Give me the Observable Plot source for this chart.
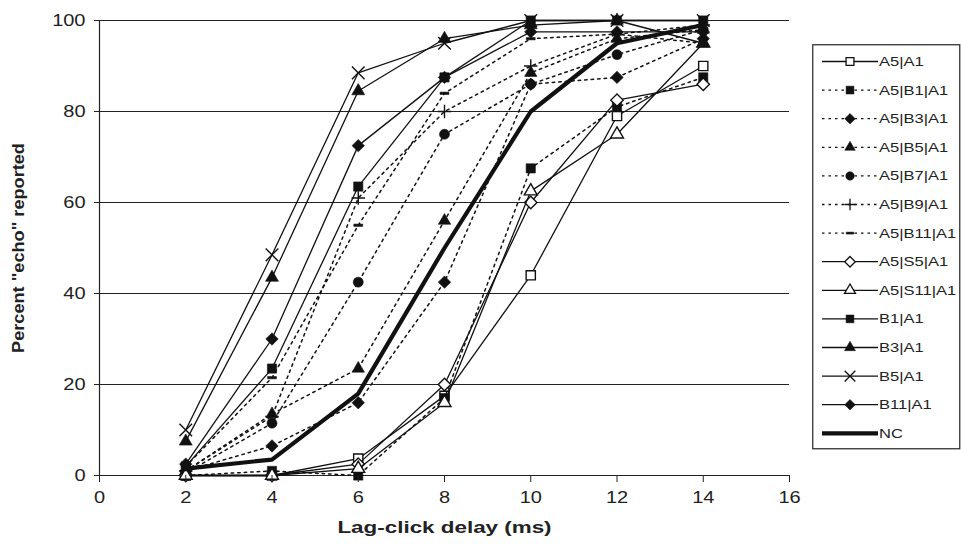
<!DOCTYPE html>
<html><head><meta charset="utf-8">
<script src="https://cdn.jsdelivr.net/npm/d3@7"></script>
<script src="https://cdn.jsdelivr.net/npm/@observablehq/plot@0.6"></script>
<style>
body{margin:0;background:#fff;}
#wrap{position:relative;width:961px;height:554px;overflow:hidden;}
#legend{position:absolute;left:812px;top:44px;}
</style></head><body><div id="wrap"></div>
<script>
// ---- data ----
const delays = [2, 4, 6, 8, 10, 12, 14];
const seriesNames = ["A5|A1","A5|B1|A1","A5|B3|A1","A5|B5|A1","A5|B7|A1","A5|B9|A1","A5|B11|A1","A5|S5|A1","A5|S11|A1","B1|A1","B3|A1","B5|A1","B11|A1","NC"];
const A5_A1     = [0, 0, 3.7, 17.5, 44, 79, 90];
const A5_B1_A1  = [0, 1, 0, 17, 67.5, 81, 87.5];
const A5_B3_A1  = [1, 6.5, 16, 42.5, 86, 87.5, 96];
const A5_B5_A1  = [1, 13.5, 23.5, 56, 88.5, 96, 98];
const A5_B7_A1  = [0.5, 11.5, 42.5, 75, 86, 92.5, 98];
const A5_B9_A1  = [1, 13, 61, 80, 90, 97, 99];
const A5_B11_A1 = [2, 21.5, 55, 84, 96, 97, 95];
const A5_S5_A1  = [0, 0, 2.5, 20, 60, 82.5, 86];
const A5_S11_A1 = [0, 0, 1.5, 16, 62.5, 75, 95];
const B1_A1     = [2, 23.5, 63.5, 87.5, 100, 100, 100];
const B3_A1     = [7.5, 43.5, 84.5, 96, 99, 100, 95];
const B5_A1     = [10, 48.5, 88.5, 95, 100, 100, 100];
const B11_A1    = [2.5, 30, 72.5, 87.5, 97.5, 97.5, 97.5];
const NC        = [1.5, 3.5, 18, 50, 80, 95, 99];
const seriesValues = [A5_A1, A5_B1_A1, A5_B3_A1, A5_B5_A1, A5_B7_A1, A5_B9_A1, A5_B11_A1, A5_S5_A1, A5_S11_A1, B1_A1, B3_A1, B5_A1, B11_A1, NC];
const xTicks = [0, 2, 4, 6, 8, 10, 12, 14, 16];
const yTicks = [0, 20, 40, 60, 80, 100];
const xTitle = "Lag-click delay (ms)";
const yTitle = 'Percent "echo" reported';

// ---- styles ----
const dashSym = {draw(ctx, size){ const s = Math.sqrt(size); const w = s*0.5, h = s*0.13; ctx.moveTo(-w,-h); ctx.lineTo(w,-h); ctx.lineTo(w,h); ctx.lineTo(-w,h); ctx.closePath(); }};
const DOT = "2.5,4";
const styleOf = {
  "A5|A1":     {sym:"square",   r:5.2, fill:"white", dash:null, sw:1.3},
  "A5|B1|A1":  {sym:"square",   r:5.2, fill:"#111",  dash:DOT,  sw:1.5},
  "A5|B3|A1":  {sym:"diamond2", r:5.6, fill:"#111",  dash:DOT,  sw:1.5},
  "A5|B5|A1":  {sym:"triangle", r:4.6, fill:"#111",  dash:DOT,  sw:1.5},
  "A5|B7|A1":  {sym:"circle",   r:5.0, fill:"#111",  dash:DOT,  sw:1.5},
  "A5|B9|A1":  {sym:"plus",     r:4.4, fill:"none",  dash:DOT,  sw:1.5},
  "A5|B11|A1": {sym:dashSym,    r:5.0, fill:"#111",  dash:DOT,  sw:1.5},
  "A5|S5|A1":  {sym:"diamond2", r:5.6, fill:"white", dash:null, sw:1.3},
  "A5|S11|A1": {sym:"triangle", r:4.8, fill:"white", dash:null, sw:1.3},
  "B1|A1":     {sym:"square",   r:5.2, fill:"#111",  dash:null, sw:1.3},
  "B3|A1":     {sym:"triangle", r:4.8, fill:"#111",  dash:null, sw:1.3},
  "B5|A1":     {sym:"times",    r:5.8, fill:"none",  dash:null, sw:1.3},
  "B11|A1":    {sym:"diamond2", r:5.6, fill:"#111",  dash:null, sw:1.3},
  "NC":        {sym:null,       r:0,   fill:"none",  dash:null, sw:4.2}
};

const rowsOf = (vals, name) => delays.map((d, i) => ({series: name, delay: d, value: vals[i]}));

const marks = [
  Plot.gridY(yTicks.filter(v => v > 0), {stroke:"#222", strokeOpacity:1, strokeWidth:1}),
  Plot.ruleX([0], {stroke:"#222", strokeWidth:1.2}),
  Plot.ruleY([0], {stroke:"#222", strokeWidth:1.2}),
];
seriesNames.forEach((name, k) => {
  const st = styleOf[name];
  const rows = rowsOf(seriesValues[k], name);
  marks.push(Plot.line(rows, {x:"delay", y:"value", stroke:"#111", strokeWidth:st.sw, strokeDasharray:st.dash || undefined, strokeLinejoin:"miter"}));
  if (st.sym) {
    const hollowStroke = st.fill === "none";
    marks.push(Plot.dot(rows, {x:"delay", y:"value", symbol: st.sym, r: st.r,
      fill: hollowStroke ? "none" : st.fill, stroke:"#111", strokeWidth: hollowStroke ? 1.4 : (st.fill === "white" ? 1.4 : 0.6)}));
  }
});
marks.push(
  Plot.axisX(xTicks, {tickSize:7, tickPadding:9, label:null, stroke:"#222", fontSize:16, className:"tickx"}),
  Plot.axisY(yTicks, {tickSize:5, tickPadding:9, label:null, stroke:"#222", fontSize:16, className:"ticky"}),
  Plot.text([xTitle], {frameAnchor:"bottom", dy:57, fontWeight:"bold", fontSize:16, fill:"#222", className:"xtitle"}),
  Plot.text([yTitle], {frameAnchor:"left", dx:-81, rotate:-90, textAnchor:"middle", fontWeight:"bold", fontSize:16.5, fill:"#222", className:"ytitle"})
);

const chart = Plot.plot({
  width: 961, height: 554,
  marginLeft: 99, marginRight: 172, marginTop: 20, marginBottom: 79,
  x: {domain:[0, 16]},
  y: {domain:[0, 100]},
  style: {fontFamily:"'Liberation Sans', Arial, sans-serif", color:"#222", background:"white", overflow:"visible"},
  marks
});
const wrap = document.getElementById("wrap");
wrap.appendChild(chart);

// ---- legend ----
const LW = 147, LH = 404, rowH = 28.6, row0 = 17.5;
const leg = d3.select(wrap).append("svg").attr("id","legend").attr("width", LW+2).attr("height", LH+2)
  .style("font-family","'Liberation Sans', Arial, sans-serif");
leg.append("rect").attr("x",0.75).attr("y",0.75).attr("width",LW).attr("height",LH).attr("fill","white").attr("stroke","#333").attr("stroke-width",1.3);
const symMap = {square:d3.symbolSquare, diamond2:d3.symbolDiamond2, triangle:d3.symbolTriangle, circle:d3.symbolCircle, plus:d3.symbolPlus, times:d3.symbolTimes};
seriesNames.forEach((name, i) => {
  const st = styleOf[name];
  const y = row0 + i*rowH;
  const g = leg.append("g").attr("transform", `translate(0,${y})`);
  g.append("line").attr("x1",10).attr("x2",66).attr("y1",0).attr("y2",0).attr("stroke","#111")
    .attr("stroke-width", name === "NC" ? 4.2 : 1.3).attr("stroke-dasharray", st.dash ? "2.5,4" : null);
  if (st.sym) {
    const type = typeof st.sym === "string" ? symMap[st.sym] : st.sym;
    const rr = st.r*0.85;
    const hollowStroke = st.fill === "none";
    g.append("path").attr("transform","translate(38,0)").attr("d", d3.symbol(type, Math.PI*rr*rr)())
      .attr("fill", hollowStroke ? "none" : st.fill).attr("stroke","#111").attr("stroke-width", hollowStroke || st.fill==="white" ? 1.3 : 0.5);
  }
  g.append("text").attr("class","legtext").attr("x",67).attr("y",0).attr("dy","0.35em").attr("font-size",13).attr("fill","#222").text(name);
});

// horizontally widen text to mimic the reference's wide lettering
function stretch(nodes, k){ nodes.forEach(t => { const L = t.getComputedTextLength(); if (L > 0) { t.setAttribute("textLength", L*k); t.setAttribute("lengthAdjust","spacingAndGlyphs"); } }); }
stretch(wrap.querySelectorAll(".legtext"), 1.27);
stretch(wrap.querySelectorAll(".tickx text, .ticky text"), 1.25);
stretch(wrap.querySelectorAll(".xtitle text"), 1.4);
stretch(wrap.querySelectorAll(".ytitle text"), 1.1);
</script></body></html>
